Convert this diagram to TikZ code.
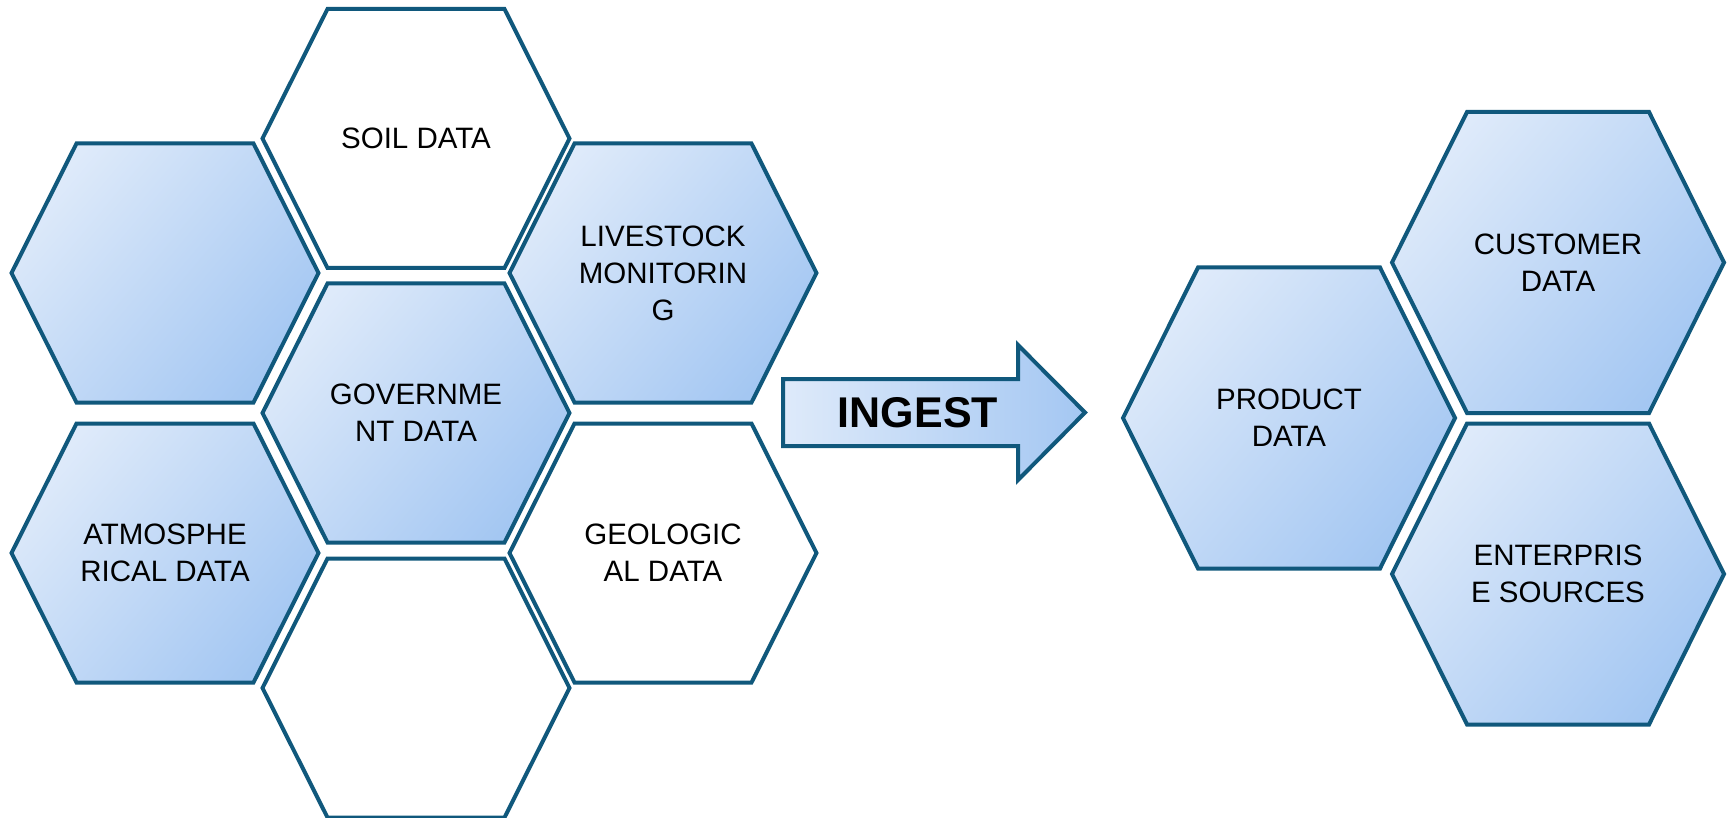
\documentclass[tikz,border=0pt]{standalone}
\usepackage{fontspec}
\setmainfont{Liberation Sans}
\definecolor{edge}{RGB}{16,88,124}
\definecolor{hexlight}{RGB}{222,234,250}
\definecolor{hexdark}{RGB}{164,199,242}
\newcommand\hw{153.5}
\newcommand\hh{129.5}
\newcommand\hdx{65}
\newcommand\hexcell[5]{%
  \draw[#1] (#3-\hw,#4) -- (#3-\hw+\hdx,#4-\hh) -- (#3+\hw-\hdx,#4-\hh) -- (#3+\hw,#4)
    -- (#3+\hw-\hdx,#4+\hh) -- (#3-\hw+\hdx,#4+\hh) -- cycle;
  \node[lbl] (#2) at (#3,#4) {#5};}
\tikzset{
  cell/.style={draw=edge, line width=4pt},
  bluecell/.style={cell, top color=hexlight, bottom color=hexdark, shading angle=50},
  whitecell/.style={cell, fill=white},
  lbl/.style={align=center, inner sep=0pt, text=black, font=\fontsize{29.5}{37}\selectfont},
  arrowbody/.style={draw=edge, line width=4pt, left color=hexlight, right color=hexdark},
}
\begin{document}
\begin{tikzpicture}[x=1pt,y=-1pt]
\fill[white] (0,0) rectangle (1727,818);
\useasboundingbox (0,0) rectangle (1727,818);
% left honeycomb
\hexcell{bluecell}{ul}{165}{273}{}
\hexcell{bluecell}{atmos}{165}{553}{ATMOSPHE\\RICAL DATA}
\hexcell{whitecell}{soil}{416}{138.5}{SOIL DATA}
\hexcell{bluecell}{gov}{416}{413}{GOVERNME\\NT DATA}
\hexcell{whitecell}{blank}{416}{688}{}
\hexcell{bluecell}{live}{663}{273}{LIVESTOCK\\MONITORIN\\G}
\hexcell{whitecell}{geo}{663}{553}{GEOLOGIC\\AL DATA}
% arrow
\draw[arrowbody] (783,379) -- (1018,379) -- (1018,345) -- (1085,412.5) -- (1018,480)
  -- (1018,446) -- (783,446) -- cycle;
\node[font=\fontsize{43}{48}\selectfont\bfseries, text=black, inner sep=0pt] (ingest) at (918,413) {INGEST};
% right honeycomb
\renewcommand\hw{166}
\renewcommand\hh{150.5}
\renewcommand\hdx{75}
\hexcell{bluecell}{product}{1289}{418}{PRODUCT\\DATA}
\hexcell{bluecell}{customer}{1558}{262.5}{CUSTOMER\\DATA}
\hexcell{bluecell}{enterprise}{1558}{574}{ENTERPRIS\\E SOURCES}
\end{tikzpicture}
\end{document}
